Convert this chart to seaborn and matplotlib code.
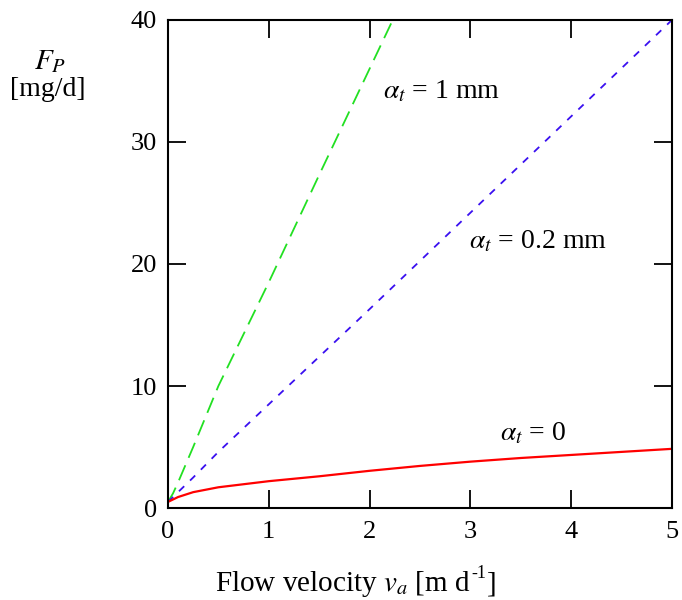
import matplotlib
matplotlib.use("Agg")
import matplotlib.pyplot as plt
import seaborn as sns
import pandas as pd

# Data
x_green = [0, 0.05, 0.1, 0.25, 0.5, 1.0, 1.5, 2.0, 2.23]
y_green = [0.5, 1.2, 2.1, 5.0, 10.0, 18.5, 27.3, 36.0, 40.0]

x_blue = [0, 0.1, 0.25, 0.5, 1.0, 1.5, 2.0, 3.0, 4.0, 5.0]
y_blue = [0.5, 1.3, 2.5, 4.6, 8.5, 12.4, 16.3, 24.2, 32.1, 40.0]

x_red = [0, 0.1, 0.25, 0.5, 1.0, 1.5, 2.0, 2.5, 3.0, 3.5, 4.0, 4.5, 5.0]
y_red = [0.5, 0.9, 1.3, 1.7, 2.2, 2.6, 3.05, 3.45, 3.8, 4.1, 4.35, 4.6, 4.85]

x_ticks = [0, 1, 2, 3, 4, 5]
y_ticks = [0, 10, 20, 30, 40]

sns.set_theme(style="white")
plt.rcParams["font.family"] = ["Liberation Serif", "DejaVu Serif"]
plt.rcParams["mathtext.fontset"] = "stix"
plt.rcParams["text.color"] = "black"
plt.rcParams["xtick.color"] = "black"
plt.rcParams["ytick.color"] = "black"

fig = plt.figure(figsize=(6.82, 6.0), dpi=100)
ax = fig.add_axes([0.2463, 0.1533, 0.739, 0.8134])

df_g = pd.DataFrame({"x": x_green, "y": y_green})
df_b = pd.DataFrame({"x": x_blue, "y": y_blue})
df_r = pd.DataFrame({"x": x_red, "y": y_red})

lw = 1.3
sns.lineplot(data=df_g, x="x", y="y", ax=ax, color="#22e022", lw=lw, sort=False,
             estimator=None)
ax.lines[-1].set_dashes((9, 4.5))
sns.lineplot(data=df_b, x="x", y="y", ax=ax, color="#3a10f0", lw=lw, sort=False,
             estimator=None)
ax.lines[-1].set_dashes((4, 4.5))
sns.lineplot(data=df_r, x="x", y="y", ax=ax, color="#ff0000", lw=1.6, sort=False,
             estimator=None)

ax.set_xlim(0, 5)
ax.set_ylim(0, 40)
ax.set_xticks(x_ticks)
ax.set_yticks(y_ticks)
ax.set_xticklabels([str(t) for t in x_ticks], fontsize=19)
ax.set_yticklabels([str(t) for t in y_ticks], fontsize=19)
ax.tick_params(direction="in", length=13, width=1.3, top=True, right=True,
               bottom=True, left=True, colors="black", labelcolor="black")
ax.tick_params(axis="x", pad=9)
ax.tick_params(axis="y", pad=8)
for s in ax.spines.values():
    s.set_visible(True)
    s.set_color("black")
    s.set_linewidth(1.5)
ax.set_xlabel("")
ax.set_ylabel("")

fs = 20
ax.text(2.13, 34.1, r"$\alpha_t$ = 1 mm", fontsize=fs, va="center", ha="left")
ax.text(2.99, 21.8, r"$\alpha_t$ = 0.2 mm", fontsize=fs, va="center", ha="left")
ax.text(3.29, 6.1, r"$\alpha_t$ = 0", fontsize=fs, va="center", ha="left")

fig.text(50 / 682, 1 - 62 / 600, r"$F_P$", fontsize=21, ha="center", va="center")
fig.text(48 / 682, 1 - 89 / 600, "[mg/d]", fontsize=20, ha="center", va="center")

base_y = 1 - 591 / 600
xl = fig.text(215 / 682, base_y, r"Flow velocity $v_a$ [m d",
              fontsize=21, ha="left", va="baseline")
fig.canvas.draw()
bb = xl.get_window_extent(renderer=fig.canvas.get_renderer())
x_end = bb.x1 / fig.bbox.width
sup = fig.text(x_end + 0.001, base_y + 0.022, "-1", fontsize=13,
               ha="left", va="baseline")
fig.canvas.draw()
bb2 = sup.get_window_extent(renderer=fig.canvas.get_renderer())
fig.text(bb2.x1 / fig.bbox.width + 0.001, base_y, "]", fontsize=21,
         ha="left", va="baseline")

fig.savefig("out.png", dpi=100, facecolor="white")
